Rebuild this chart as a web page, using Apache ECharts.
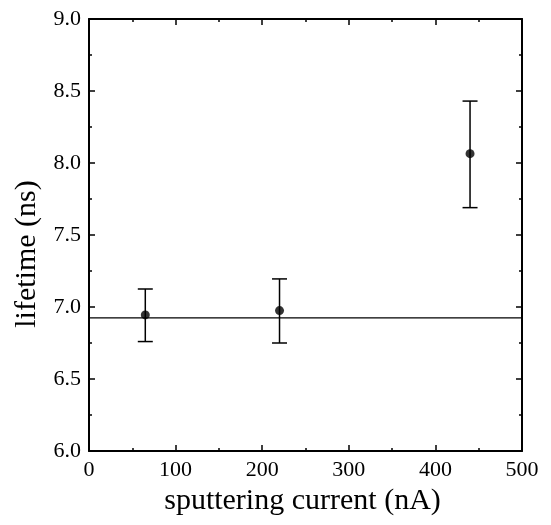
<!DOCTYPE html>
<html><head><meta charset="utf-8">
<script src="https://cdn.jsdelivr.net/npm/echarts@6/dist/echarts.min.js"></script>
<style>html,body{margin:0;padding:0;background:#fff}#c{width:551px;height:525px}</style>
</head><body><div id="c"></div>
<script>
const xValues = [65, 220, 440];
const yValues = [6.945, 6.975, 8.065];
const yLow = [6.76, 6.75, 7.69];
const yHigh = [7.125, 7.195, 8.43];
const fitY = 6.925;
const fitX = [0, 500];
const xTicks = [0, 100, 200, 300, 400, 500];
const yTicks = [6.0, 6.5, 7.0, 7.5, 8.0, 8.5, 9.0];

const font = 'Liberation Serif';
const chart = echarts.init(document.getElementById('c'));
const axisCommon = {
  axisLine: {show: true, onZero: false, lineStyle: {color: '#000', width: 2}},
  axisTick: {show: true, inside: true, length: 6, lineStyle: {color: '#000', width: 1.5}},
  minorTick: {show: true, splitNumber: 2, length: 3, lineStyle: {color: '#000', width: 1.5}},
  splitLine: {show: false}
};
chart.setOption({
  animation: false,
  grid: {left: 89, right: 29, top: 19, bottom: 74},
  xAxis: [
    Object.assign({type: 'value', min: 0, max: 500, interval: 100, position: 'bottom',
      name: 'sputtering current (nA)', nameLocation: 'middle', nameGap: 33,
      nameTextStyle: {fontFamily: font, fontSize: 30, color: '#000', padding: [0, 6, 0, 0]},
      axisLabel: {fontFamily: font, fontSize: 22, color: '#000', margin: 8,
        formatter: v => xTicks.includes(v) ? String(v) : ''}}, axisCommon),
    Object.assign({type: 'value', min: 0, max: 500, interval: 100, position: 'top',
      axisLabel: {show: false}}, axisCommon)
  ],
  yAxis: [
    Object.assign({type: 'value', min: 6.0, max: 9.0, interval: 0.5, position: 'left',
      name: 'lifetime (ns)', nameLocation: 'middle', nameGap: 47,
      nameTextStyle: {fontFamily: font, fontSize: 30, color: '#000', padding: [0, 38, 0, 0]},
      axisLabel: {fontFamily: font, fontSize: 22, color: '#000', margin: 8,
        formatter: v => { const t = yTicks.find(k => Math.abs(k - v) < 1e-6); return t !== undefined ? t.toFixed(1) : ''; }}}, axisCommon),
    Object.assign({type: 'value', min: 6.0, max: 9.0, interval: 0.5, position: 'right',
      axisLabel: {show: false}}, axisCommon)
  ],
  series: [
    {type: 'line', data: fitX.map(x => [x, fitY]), symbol: 'none',
      lineStyle: {color: '#000', width: 1.3}, z: 2},
    {type: 'custom', data: xValues.map((x, i) => [x, yLow[i], yHigh[i]]),
      renderItem: function (params, api) {
        const x = api.value(0);
        const lo = api.coord([x, api.value(1)]);
        const hi = api.coord([x, api.value(2)]);
        const w = 7.5;
        const st = {stroke: '#000', lineWidth: 1.5};
        return {type: 'group', children: [
          {type: 'line', shape: {x1: lo[0], y1: lo[1], x2: hi[0], y2: hi[1]}, style: st},
          {type: 'line', shape: {x1: lo[0] - w, y1: lo[1], x2: lo[0] + w, y2: lo[1]}, style: st},
          {type: 'line', shape: {x1: hi[0] - w, y1: hi[1], x2: hi[0] + w, y2: hi[1]}, style: st}
        ]};
      }, z: 3},
    {type: 'scatter', data: xValues.map((x, i) => [x, yValues[i]]), symbol: 'circle', symbolSize: 9,
      itemStyle: {color: '#000'}, z: 4}
  ]
});
</script></body></html>
